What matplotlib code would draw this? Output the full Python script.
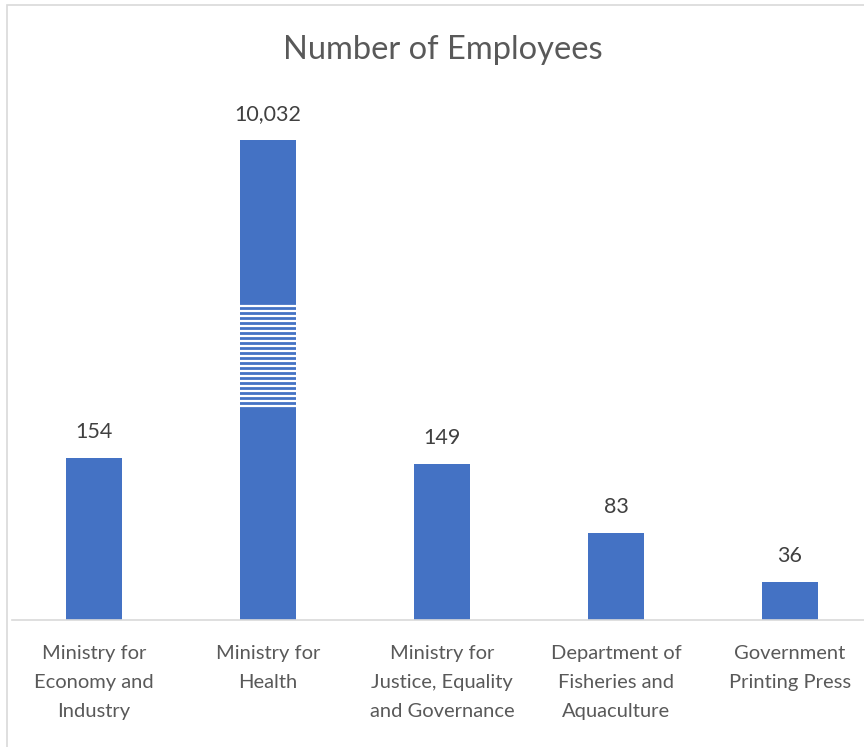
import matplotlib.pyplot as plt
import numpy as np
from matplotlib.patches import Rectangle

categories = ["Ministry for\nEconomy and\nIndustry", "Ministry for\nHealth",
              "Ministry for\nJustice, Equality\nand Governance",
              "Department of\nFisheries and\nAquaculture", "Government\nPrinting Press"]
employees = [154, 10032, 149, 83, 36]
value_labels = ["154", "10,032", "149", "83", "36"]

# broken axis: value -> pixel height above baseline (piecewise linear)
brk_lo, brk_hi = 202, 9880
v_pts = np.array([0, brk_lo, brk_hi, 10032, 20000])
p_pts = np.array([0, 212, 320, 480, 480 + (20000 - 10032) * 1.05])

def fwd(v):
    return np.interp(v, v_pts, p_pts)

def inv(p):
    return np.interp(p, p_pts, v_pts)

plt.rcParams['font.family'] = ['Lato', 'DejaVu Sans']

fig = plt.figure(figsize=(8.64, 7.47), dpi=100)
fig.patches.append(Rectangle((6.5 / 864, -0.1), 1.2, (747 - 4.5) / 747 + 0.1,
                             transform=fig.transFigure, fill=False,
                             edgecolor='#d9d9d9', linewidth=1.2))

ax = fig.add_axes([12 / 864, 127 / 747, 852 / 864, 520 / 747])
ax.set_yscale('function', functions=(fwd, inv))
x = np.arange(len(categories))
w = 0.32
bars = ax.bar(x, employees, width=w, color='#4472c4', zorder=2)

# stripes marking the break on the tall bar
stripe_px = np.arange(214, 318, 5.0)
ax.hlines(inv(stripe_px), x[1] - w / 2, x[1] + w / 2, color='white', linewidth=1.6, zorder=3)

for xi, v, lab in zip(x, employees, value_labels):
    ax.text(xi, inv(fwd(v) + 26), lab, ha='center', va='center', fontsize=15.5, color='#404040')

ax.set_xlim(-0.47, 4.425)
ax.set_ylim(0, inv(520))
ax.set_xticks(x)
ax.set_xticklabels(categories, fontsize=14.5, color='#595959', linespacing=1.84)
ax.tick_params(axis='x', length=0, pad=18)
ax.set_yticks([])
for s in ['left', 'right', 'top']:
    ax.spines[s].set_visible(False)
ax.spines['bottom'].set_color('#d9d9d9')
ax.spines['bottom'].set_linewidth(1.2)

fig.text(443 / 864, 1 - 50 / 747, "Number of Employees", ha='center', va='center',
         fontsize=23.5, color='#595959')

fig.savefig("out.png", dpi=100)
